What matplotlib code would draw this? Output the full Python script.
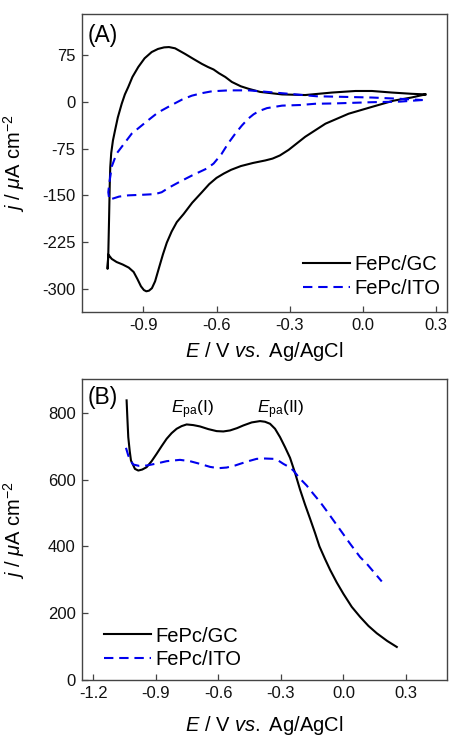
import matplotlib
matplotlib.use("Agg")
import matplotlib.pyplot as plt

plt.rcParams['font.family'] = ['Liberation Sans', 'DejaVu Sans']
plt.rcParams['mathtext.fontset'] = 'custom'
plt.rcParams['mathtext.rm'] = 'Liberation Sans'
plt.rcParams['mathtext.it'] = 'Liberation Sans:italic'
plt.rcParams['axes.unicode_minus'] = False

# ---- Panel A: cyclic voltammograms ----
gc_cv_E = [0.257, 0.20, 0.127, 0.038, -0.058, -0.153, -0.236, -0.304, -0.34, -0.37,
           -0.40, -0.45, -0.50, -0.54, -0.57, -0.60, -0.63, -0.66, -0.70, -0.735,
           -0.763, -0.784, -0.804, -0.82, -0.835, -0.852, -0.865, -0.877, -0.888, -0.898,
           -0.91, -0.925, -0.94, -0.96, -0.985, -1.01, -1.03, -1.044,
           -1.047, -1.044, -1.041, -1.038, -1.036, -1.032, -1.025, -1.016, -1.005, -0.989,
           -0.976, -0.962, -0.945, -0.921, -0.895, -0.866, -0.84, -0.815, -0.795, -0.77,
           -0.729, -0.695, -0.660, -0.635, -0.612, -0.59, -0.564, -0.537, -0.50, -0.468,
           -0.421, -0.331, -0.236, -0.126, -0.03, 0.038, 0.12, 0.20, 0.257]
gc_cv_j = [12, 7, 2, -8, -19, -35, -56, -77, -86, -91,
           -94, -98, -103, -109, -115, -122, -132, -145, -162, -180,
           -193, -208, -226, -245, -265, -288, -299, -303, -304, -302,
           -296, -284, -273, -266, -261, -257, -252, -245,
           -268, -243, -190, -131, -105, -82, -62, -45, -25, -3,
           12, 24, 40, 56, 70, 80, 85, 87.5, 88, 86,
           77, 69, 61, 56, 52, 46, 40, 32, 25, 21,
           16, 12, 11, 15, 17.5, 17.5, 15, 13, 12]

ito_cv_E = [0.245, 0.155, 0.038, -0.119, -0.195, -0.256, -0.331, -0.393, -0.427, -0.448,
            -0.47, -0.496, -0.523, -0.551, -0.58, -0.612, -0.64, -0.70, -0.75, -0.797,
            -0.825, -0.852, -0.90, -0.962, -1.00, -1.04, -1.044, -1.04, -1.03, -1.01,
            -0.948, -0.879, -0.84, -0.784, -0.74, -0.701, -0.66, -0.619, -0.55, -0.468,
            -0.421, -0.304, -0.188, -0.126, 0.038, 0.15, 0.245]
ito_cv_j = [3, 0.5, -0.5, -2.5, -3, -5, -6, -10, -15, -20,
            -27, -38, -51, -66, -84, -99, -107, -118, -128, -138,
            -145, -148, -149, -150, -152, -157, -145, -131, -104, -83,
            -51, -29, -17, -5, 4, 10, 14, 17, 18.5, 18.5,
            17, 13, 9, 8.5, 7, 5, 3]

# ---- Panel B: anodic scans ----
gc_lsv_E = [-1.04, -1.036, -1.032, -1.025, -1.019, -1.0, -0.984, -0.965, -0.944, -0.92,
            -0.896, -0.872, -0.848, -0.824, -0.8, -0.776, -0.752, -0.72, -0.688, -0.648,
            -0.608, -0.576, -0.544, -0.51, -0.48, -0.44, -0.40, -0.376, -0.352, -0.328,
            -0.304, -0.28, -0.256, -0.232, -0.208, -0.184, -0.16, -0.136, -0.115, -0.088,
            -0.064, -0.032, 0.0, 0.04, 0.08, 0.12, 0.16, 0.21, 0.256]
gc_lsv_j = [837, 780, 727, 685, 657, 632, 627, 630, 637, 655,
            677, 700, 722, 739, 752, 760, 765, 763, 759, 751,
            745, 744, 747, 754, 762, 771, 775, 773, 767, 752,
            727, 697, 665, 620, 570, 525, 483, 440, 400, 362,
            330, 292, 258, 219, 189, 162, 140, 117, 99]

ito_lsv_E = [-1.043, -1.032, -1.02, -1.008, -0.98, -0.944, -0.896, -0.848, -0.784, -0.736,
             -0.688, -0.64, -0.6, -0.56, -0.52, -0.496, -0.456, -0.416, -0.376, -0.336,
             -0.31, -0.288, -0.256, -0.24, -0.21, -0.176, -0.144, -0.112, -0.08, -0.048,
             -0.008, 0.032, 0.08, 0.112, 0.15, 0.184]
ito_lsv_j = [695, 672, 655, 645, 641, 642, 648, 655, 659, 655,
             647, 638, 634, 636, 642, 647, 655, 662, 663, 662,
             656, 647, 636, 627, 604, 582, 557, 533, 506, 478,
             443, 408, 368, 348, 320, 295]

xlabel = r'$\mathit{E}$ / V $\mathit{vs.}$ Ag/AgCl'
ylabel = r'$\mathit{j}$ / $\mu$A cm$^{-2}$'

fig = plt.figure(figsize=(4.49, 7.39), dpi=100)
axA = fig.add_axes([0.1826, 0.578, 0.813, 0.403])
axB = fig.add_axes([0.1826, 0.0798, 0.813, 0.4069])

for ax in (axA, axB):
    ax.tick_params(direction='in', length=4.3, width=0.9, labelsize=12, pad=4.5,
                   color='#444444', labelcolor='#111111')
    for s in ax.spines.values():
        s.set_linewidth(1.0)
        s.set_color('#444444')

# Panel A
axA.plot(gc_cv_E, gc_cv_j, color='black', lw=1.5, label='FePc/GC')
axA.plot(ito_cv_E, ito_cv_j, color='#0000ee', lw=1.5, ls=(0, (4.5, 2.8)), label='FePc/ITO')
axA.set_xlim(-1.152, 0.346)
axA.set_ylim(-337, 141)
axA.set_xticks([-0.9, -0.6, -0.3, 0.0, 0.3])
axA.set_yticks([-300, -225, -150, -75, 0, 75])
axA.set_xlabel(xlabel, fontsize=14.5)
axA.set_ylabel(ylabel, fontsize=14.5)
axA.xaxis.set_label_coords(0.5, -0.094)
axA.yaxis.set_label_coords(-0.150, 0.5)
axA.text(0.016, 0.965, '(A)', transform=axA.transAxes, fontsize=16.5, va='top', ha='left')
axA.legend(loc='lower right', bbox_to_anchor=(1.005, 0.02), borderaxespad=0,
           frameon=False, fontsize=14.5, handlelength=2.33, handletextpad=0.25,
           labelspacing=0.22)

# Panel B
axB.plot(gc_lsv_E, gc_lsv_j, color='black', lw=1.5, label='FePc/GC')
axB.plot(ito_lsv_E, ito_lsv_j, color='#0000ee', lw=1.5, ls=(0, (4.5, 2.8)), label='FePc/ITO')
axB.set_xlim(-1.254, 0.497)
axB.set_ylim(0, 900)
axB.set_xticks([-1.2, -0.9, -0.6, -0.3, 0.0, 0.3])
axB.set_yticks([0, 200, 400, 600, 800])
axB.set_xlabel(xlabel, fontsize=14.5)
axB.set_ylabel(ylabel, fontsize=14.5)
axB.xaxis.set_label_coords(0.5, -0.114)
axB.yaxis.set_label_coords(-0.150, 0.5)
axB.text(0.016, 0.977, '(B)', transform=axB.transAxes, fontsize=16.5, va='top', ha='left')
axB.text(-0.722, 799, r'$\mathit{E}_{\mathrm{pa}}$(I)', fontsize=12.5, ha='center', va='baseline')
axB.text(-0.300, 799, r'$\mathit{E}_{\mathrm{pa}}$(II)', fontsize=12.5, ha='center', va='baseline')
axB.legend(loc='lower left', bbox_to_anchor=(0.038, 0.01), borderaxespad=0,
           frameon=False, fontsize=14.5, handlelength=2.33, handletextpad=0.25,
           labelspacing=0.22)

fig.savefig('out.png', dpi=100)
